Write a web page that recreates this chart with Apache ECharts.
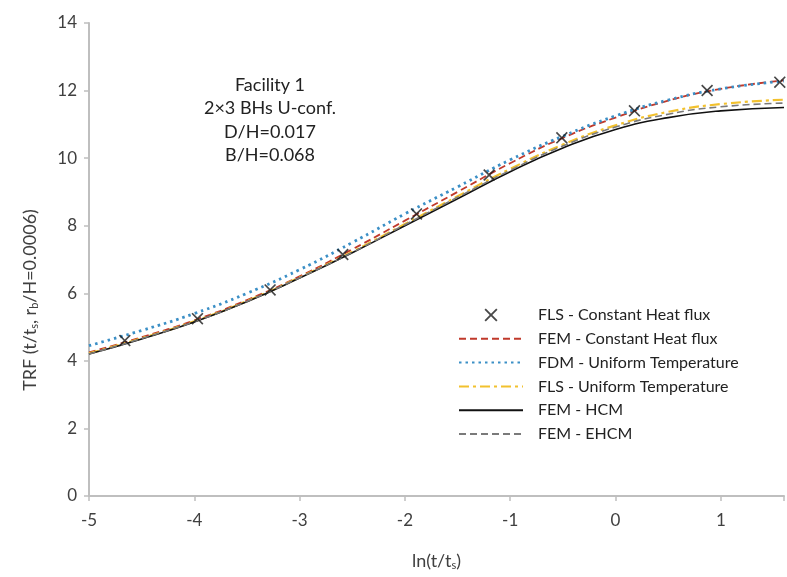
<!DOCTYPE html>
<html><head><meta charset="utf-8">
<script src="https://cdn.jsdelivr.net/npm/echarts@6/dist/echarts.min.js"></script>
<style>html,body{margin:0;padding:0;background:#fff}#c{width:787px;height:577px}</style>
</head><body><div id="c"></div>
<script>
// Data
var xGrid = [-5, -4.5, -4, -3.5, -3, -2.5, -2, -1.5, -1, -0.5, 0, 0.5, 1, 1.6];
var femCHF = [4.25, 4.7, 5.2, 5.8, 6.5, 7.3, 8.15, 9.0, 9.85, 10.6, 11.2, 11.7, 12.05, 12.3];
var fdmUT  = [4.45, 4.9, 5.4, 6.0, 6.7, 7.5, 8.35, 9.15, 9.95, 10.65, 11.25, 11.72, 12.05, 12.28];
var flsUT  = [4.22, 4.67, 5.17, 5.77, 6.47, 7.23, 8.05, 8.87, 9.68, 10.4, 10.97, 11.37, 11.6, 11.73];
var femHCM = [4.2, 4.65, 5.15, 5.75, 6.45, 7.2, 8.0, 8.8, 9.6, 10.3, 10.85, 11.2, 11.4, 11.5];
var femEHCM= [4.2, 4.66, 5.16, 5.76, 6.46, 7.21, 8.03, 8.84, 9.64, 10.36, 10.92, 11.3, 11.52, 11.63];
var flsX   = [-4.66, -3.97, -3.28, -2.59, -1.89, -1.2, -0.51, 0.18, 0.87, 1.56];
var flsCHF = [4.6, 5.25, 6.1, 7.15, 8.35, 9.5, 10.6, 11.4, 12.0, 12.25];
var xTicks = [-5, -4, -3, -2, -1, 0, 1];
var yTicks = [0, 2, 4, 6, 8, 10, 12, 14];
var annot = ['Facility 1', '2×3 BHs U-conf.', 'D/H=0.017', 'B/H=0.068'];
var names = ['FLS - Constant Heat flux', 'FEM - Constant Heat flux', 'FDM - Uniform Temperature',
             'FLS - Uniform Temperature', 'FEM - HCM', 'FEM - EHCM'];

function zip(xs, ys){ return xs.map(function(x,i){ return [x, ys[i]]; }); }
var FONT = 'Lato';
var crossPath = 'path://M0,1L1,0L5,4L9,0L10,1L6,5L10,9L9,10L5,6L1,10L0,9L4,5Z';

var chart = echarts.init(document.getElementById('c'));
function lineSeries(name, data, color, type, width){
  return {name:name, type:'line', data:zip(xGrid, data), smooth:true, symbol:'circle', showSymbol:false,
    lineStyle:{color:color, type:type, width:width}, itemStyle:{color:color}, z:2};
}
var legendData = names.map(function(n, i){
  return i === 0 ? {name:n} : {name:n, itemStyle:{opacity:0, borderWidth:0}};
});
chart.setOption({
  animation:false,
  backgroundColor:'#fff',
  grid:{left:89, right:0, top:23, bottom:81, containLabel:false},
  xAxis:{type:'value', min:-5, max:1.6, interval:1,
    axisLine:{onZero:false, lineStyle:{color:'#bfbfbf', width:2}},
    axisTick:{show:true, length:5, lineStyle:{color:'#bfbfbf', width:1.5}},
    splitLine:{show:false},
    axisLabel:{margin:16, color:'#404040', fontSize:17, fontFamily:FONT,
      formatter:function(v){ return xTicks.indexOf(v) >= 0 ? String(v) : ''; }},
    name:'ln(t/t{s|s})', nameLocation:'middle', nameGap:55,
    nameTextStyle:{color:'#404040', fontSize:18, fontFamily:FONT,
      rich:{s:{fontSize:11, verticalAlign:'bottom', padding:[9,0,0,0], fontFamily:FONT, color:'#404040'}}}
  },
  yAxis:{type:'value', min:0, max:14, interval:2,
    axisLine:{show:true, onZero:false, lineStyle:{color:'#bfbfbf', width:2}},
    axisTick:{show:true, length:5, lineStyle:{color:'#bfbfbf', width:1.5}},
    splitLine:{show:false},
    axisLabel:{margin:12, color:'#404040', fontSize:17, fontFamily:FONT,
      formatter:function(v){ return yTicks.indexOf(v) >= 0 ? String(v) : ''; }}
  },
  legend:{orient:'vertical', left:453, top:302, itemWidth:64, itemHeight:13, itemGap:7.8,
    textStyle:{fontSize:16, fontFamily:FONT, color:'#222', padding:[0,0,0,10]},
    data:legendData},
  graphic:[
    {type:'group', children: annot.map(function(t,i){
      return {type:'text', x:270, y:85 + i*23.5, style:{text:t, fontSize:18, fontFamily:FONT, fill:'#222',
        textAlign:'center', textVerticalAlign:'middle'}};
    })},
    {type:'text', x:30, y:300, rotation:Math.PI/2,
      style:{text:'{a|TRF (t/t}{s|s}{a|, r}{s|b}{a|/H=0.0006)}', textAlign:'center', textVerticalAlign:'middle',
        rich:{a:{fontSize:18, fontFamily:FONT, fill:'#404040', color:'#404040'},
              s:{fontSize:11, fontFamily:FONT, fill:'#404040', color:'#404040', padding:[9,0,0,0]}}}}
  ],
  series:[
    {name:names[0], type:'scatter', data:zip(flsX, flsCHF), symbol:crossPath, symbolSize:12,
      itemStyle:{color:'#1a1a1a'}, z:5},
    lineSeries(names[1], femCHF, '#c0392b', [7,4], 1.8),
    lineSeries(names[2], fdmUT, '#3b8fc6', [2.5,4], 2.8),
    lineSeries(names[3], flsUT, '#f2c12e', [10,4,3,4], 2.2),
    lineSeries(names[4], femHCM, '#111111', 'solid', 1.6),
    lineSeries(names[5], femEHCM, '#7a7a7a', [7,4], 1.6)
  ]
});
</script></body></html>
